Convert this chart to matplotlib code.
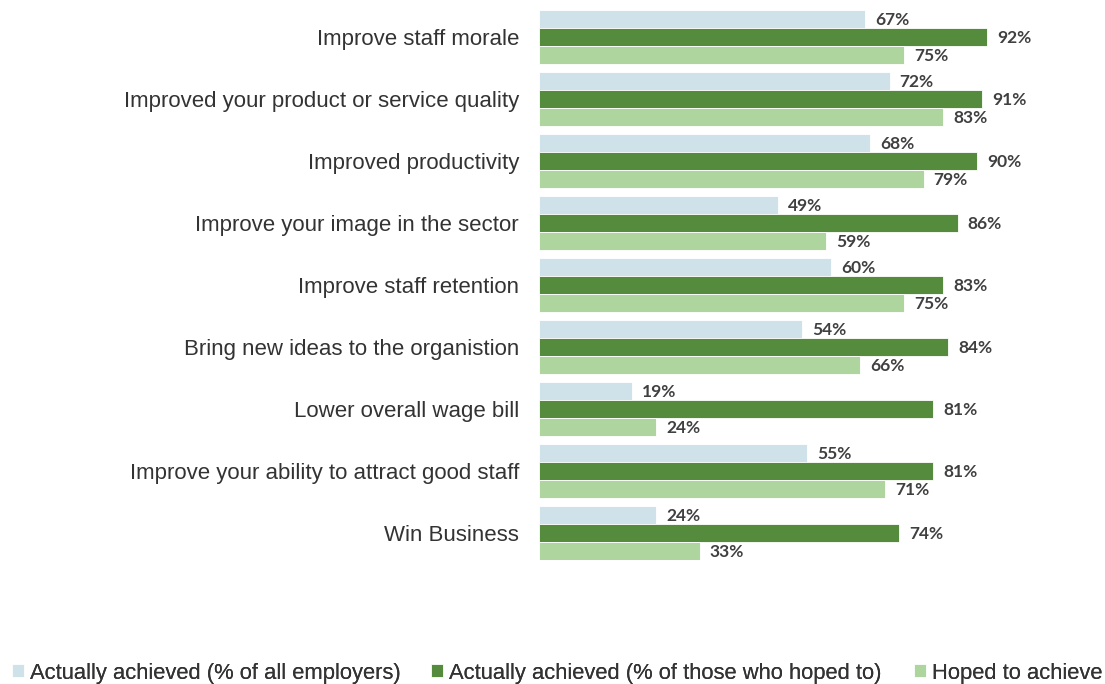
import matplotlib
matplotlib.use("Agg")
import matplotlib.pyplot as plt
import numpy as np

categories = [
    "Improve staff morale",
    "Improved your product or service quality",
    "Improved productivity",
    "Improve your image in the sector",
    "Improve staff retention",
    "Bring new ideas to the organistion",
    "Lower overall wage bill",
    "Improve your ability to attract good staff",
    "Win Business",
]
achieved_all = [67, 72, 68, 49, 60, 54, 19, 55, 24]
achieved_hoped = [92, 91, 90, 86, 83, 84, 81, 81, 74]
hoped = [75, 83, 79, 59, 75, 66, 24, 71, 33]

series_names = [
    "Actually achieved (% of all employers)",
    "Actually achieved (% of those who hoped to)",
    "Hoped to achieve",
]
colors = ["#CFE2E9", "#548B3C", "#AED59E"]

W, H = 1105, 684
fig = plt.figure(figsize=(W / 100, H / 100), dpi=100)
ax = fig.add_axes([539 / W, 1 - 560 / H, (1026 - 539) / W, 550 / H])

y = np.arange(len(categories))
h = 0.29
handles = []
for k, (vals, col) in enumerate(zip([achieved_all, achieved_hoped, hoped], colors)):
    bars = ax.barh(y + (k - 1) * h, vals, height=h, color=col,
                   edgecolor="white", linewidth=0.6, label=series_names[k])
    handles.append(bars)
    for b, v in zip(bars, vals):
        ax.annotate(f"{v}%", (b.get_width(), b.get_y() + b.get_height() / 2),
                    xytext=(10, -1), textcoords="offset pixels",
                    va="center", ha="left", fontsize=12.5, fontweight="bold",
                    family="Lato", color="#404040")

ax.set_xlim(0, 100)
ax.set_ylim(len(categories) - 1 + 0.435, -0.435)
ax.set_yticks(y)
ax.set_yticklabels(categories, fontsize=16, family="Liberation Sans", color="#333333")
ax.tick_params(axis="y", length=0, pad=14.4)
ax.set_xticks([])
for s in ax.spines.values():
    s.set_visible(False)

# legend entries placed individually along the bottom
legend_x = [12, 431, 914]
for hnd, name, lx in zip(handles, series_names, legend_x):
    lg = fig.legend(handles=[hnd], labels=[name], loc="center left",
                    bbox_to_anchor=(lx / W, 1 - 673 / H), frameon=False,
                    prop={"family": "Liberation Sans", "size": 15.8},
                    handlelength=0.55, handleheight=0.55, handletextpad=0.25,
                    borderpad=0, borderaxespad=0, labelcolor="#333333")
    fig.add_artist(lg)

fig.savefig("out.png", dpi=100)
